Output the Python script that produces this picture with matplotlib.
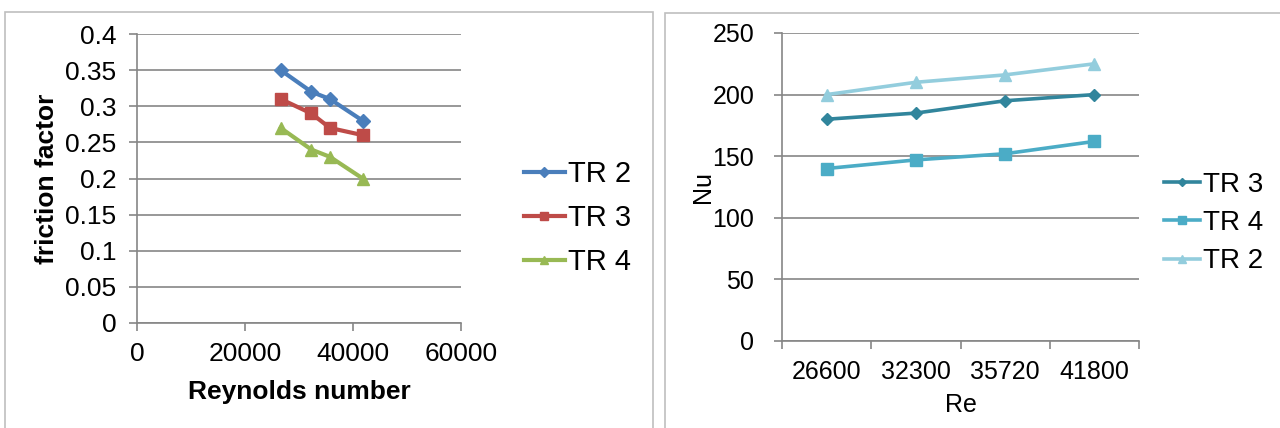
import matplotlib
matplotlib.use("Agg")
import matplotlib.pyplot as plt
from matplotlib.patches import Rectangle

plt.rcParams['font.family'] = ['Liberation Sans', 'DejaVu Sans']

re_vals = [26600, 32300, 35720, 41800]
f_tr2 = [0.35, 0.32, 0.31, 0.28]
f_tr3 = [0.31, 0.29, 0.27, 0.26]
f_tr4 = [0.27, 0.24, 0.23, 0.20]

re_cats = ["26600", "32300", "35720", "41800"]
nu_tr3 = [180, 185, 195, 200]
nu_tr4 = [140, 147, 152, 162]
nu_tr2 = [200, 210, 216, 225]

W, H = 1280, 428
fig = plt.figure(figsize=(12.8, 4.28), dpi=100)

def fx(px):
    return px / W

def fy(py):
    return 1 - py / H

# panel borders
for (x0, y0, x1, y1) in [(5, 12, 653, 430), (665, 13, 1282, 430)]:
    fig.patches.append(Rectangle((fx(x0), fy(y1)), fx(x1 - x0), (y1 - y0) / H,
                                 transform=fig.transFigure, fill=False,
                                 edgecolor='#bfbfbf', linewidth=1.2))

grid_c = '#868686'

# Left chart
ax1 = fig.add_axes([fx(137), fy(323), fx(461 - 137), (323 - 34) / H])
ax1.plot(re_vals, f_tr2, color='#4a7ebb', marker='D', markersize=7, linewidth=3, label='TR 2')
ax1.plot(re_vals, f_tr3, color='#be4b48', marker='s', markersize=9, linewidth=3, label='TR 3')
ax1.plot(re_vals, f_tr4, color='#98b954', marker='^', markersize=9, linewidth=3, label='TR 4')
ax1.set_xlim(0, 60000)
ax1.set_ylim(0, 0.4)
ax1.set_xticks([0, 20000, 40000, 60000])
ax1.set_yticks([0, 0.05, 0.1, 0.15, 0.2, 0.25, 0.3, 0.35, 0.4])
ax1.set_yticklabels(['0', '0.05', '0.1', '0.15', '0.2', '0.25', '0.3', '0.35', '0.4'])
ax1.grid(axis='y', color=grid_c, linewidth=1.2)
ax1.set_axisbelow(True)
for s in ['top', 'right']:
    ax1.spines[s].set_visible(False)
for s in ['left', 'bottom']:
    ax1.spines[s].set_color(grid_c)
    ax1.spines[s].set_linewidth(1.2)
ax1.tick_params(axis='both', colors=grid_c, labelcolor='black', labelsize=19, length=6, width=1.2)
ax1.tick_params(axis='x', pad=8)
ax1.tick_params(axis='y', pad=9)
ax1.set_xlabel('Reynolds number', fontsize=19, fontweight='bold', labelpad=10)
ax1.set_ylabel('friction factor', fontsize=19, fontweight='bold', labelpad=4)
leg1 = ax1.legend(loc='center left', bbox_to_anchor=(fx(524), fy(218)),
                  bbox_transform=fig.transFigure, frameon=False, fontsize=21,
                  handlelength=1.4, handletextpad=0.1, labelspacing=0.55,
                  borderpad=0, borderaxespad=0, markerscale=0.7)

# Right chart
ax2 = fig.add_axes([fx(782), fy(341), fx(1139 - 782), (341 - 33) / H])
xs = list(range(len(re_cats)))
ax2.plot(xs, nu_tr3, color='#31859c', marker='D', markersize=6, linewidth=2.6, label='TR 3')
ax2.plot(xs, nu_tr4, color='#4bacc6', marker='s', markersize=8, linewidth=2.6, label='TR 4')
ax2.plot(xs, nu_tr2, color='#93cddd', marker='^', markersize=8, linewidth=2.6, label='TR 2')
ax2.set_xlim(-0.5, 3.5)
ax2.set_ylim(0, 250)
ax2.set_xticks(xs)
ax2.set_xticklabels(re_cats)
ax2.set_xticks([-0.5, 0.5, 1.5, 2.5, 3.5], minor=True)
ax2.tick_params(axis='x', which='major', length=0, pad=14)
ax2.tick_params(axis='x', which='minor', length=6, width=1.2, colors=grid_c)
ax2.set_yticks([0, 50, 100, 150, 200, 250])
ax2.grid(axis='y', color=grid_c, linewidth=1.2)
ax2.set_axisbelow(True)
for s in ['top', 'right']:
    ax2.spines[s].set_visible(False)
for s in ['left', 'bottom']:
    ax2.spines[s].set_color(grid_c)
    ax2.spines[s].set_linewidth(1.2)
ax2.tick_params(axis='both', colors=grid_c, labelcolor='black', labelsize=18)
ax2.tick_params(axis='y', length=6, width=1.2, pad=14)
ax2.set_xlabel('Re', fontsize=18, labelpad=6)
ax2.set_ylabel('Nu', fontsize=18, labelpad=-2)
leg2 = ax2.legend(loc='center left', bbox_to_anchor=(fx(1164), fy(223)),
                  bbox_transform=fig.transFigure, frameon=False, fontsize=20,
                  handlelength=1.3, handletextpad=0.1, labelspacing=0.45,
                  borderpad=0, borderaxespad=0, markerscale=0.7)

fig.savefig('out.png', dpi=100)
